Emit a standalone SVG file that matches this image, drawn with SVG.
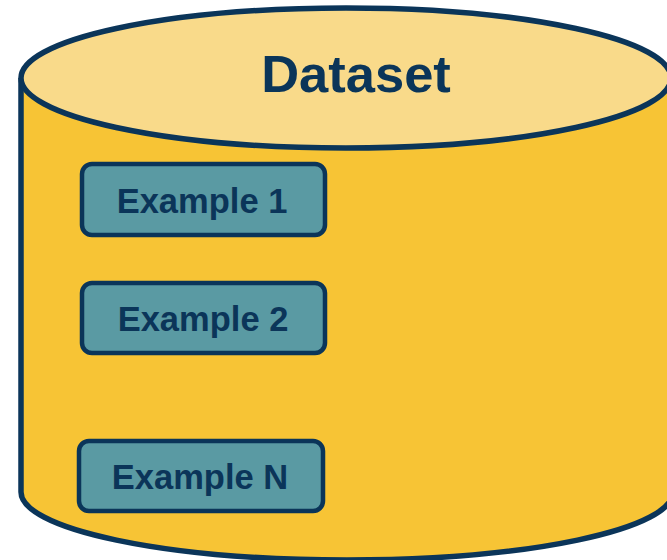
<svg xmlns="http://www.w3.org/2000/svg" width="667" height="560" viewBox="0 0 667 560">
<style>
.edge{stroke:#0B3559;stroke-width:5.5;}
.box{fill:#5A9AA3;stroke:#0B3559;stroke-width:4.5;}
.lbl{font-family:"Liberation Sans",Arial,sans-serif;font-weight:bold;fill:#0B3559;text-anchor:middle;}
</style>
<rect width="667" height="560" fill="#FFFFFF"/>
<g id="cylinder">
<path class="edge" d="M21,78 L21,492 A326,68 0 0 0 673,492 L673,78" fill="#F7C435"/>
<ellipse class="edge" cx="346" cy="78" rx="325" ry="70" fill="#F9DA8A"/>
<text class="lbl" x="356" y="92" font-size="52.5">Dataset</text>
</g>
<g id="example1">
<rect class="box" x="82" y="164" width="243" height="71" rx="10"/>
<text class="lbl" x="202" y="213" font-size="34.5">Example 1</text>
</g>
<g id="example2">
<rect class="box" x="82" y="283" width="243" height="70" rx="10"/>
<text class="lbl" x="203" y="331" font-size="34.5">Example 2</text>
</g>
<g id="exampleN">
<rect class="box" x="79" y="441" width="244" height="70" rx="10"/>
<text class="lbl" x="200" y="489" font-size="34.5">Example N</text>
</g>
<g id="connectors"></g>
</svg>
